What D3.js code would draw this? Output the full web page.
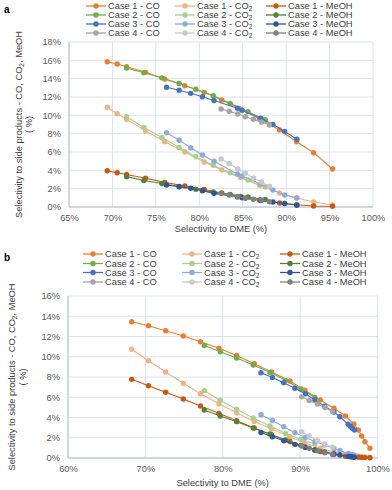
<!DOCTYPE html>
<html><head><meta charset="utf-8">
<script src="https://cdn.jsdelivr.net/npm/d3@7"></script>
<style>
html,body{margin:0;padding:0;background:#fff;}
svg{display:block;font-family:"Liberation Sans",Arial,sans-serif;}
</style></head>
<body><svg id="c" width="392" height="490"></svg>
<script>
// ---------- DATA (percent) ----------
const caseNames = ["Case 1","Case 2","Case 3","Case 4"];
const speciesNames = ["CO","CO2","MeOH"];
const xTicksA = [65,70,75,80,85,90,95,100];
const yTicksA = [0,2,4,6,8,10,12,14,16,18];
const xTicksB = [60,70,80,90,100];
const yTicksB = [0,2,4,6,8,10,12,14,16];

// Panel a
const aCase1X    = [69.40,70.55,71.63,73.82,76.03,78.33,80.57,82.59,84.74,86.95,89.25,91.21,93.16,95.34];
const aCase1CO   = [15.85,15.60,15.30,14.69,13.96,13.23,12.51,11.67,10.69,9.60,8.40,7.12,5.92,4.15];
const aCase1CO2  = [10.88,10.18,9.57,8.29,7.12,6.00,4.91,4.04,3.20,2.35,1.53,0.98,0.55,0.22];
const aCase1MeOH = [3.96,3.74,3.55,3.14,2.69,2.29,1.91,1.53,1.15,0.76,0.44,0.24,0.11,0.08];

const aCase2X    = [71.63,73.62,75.69,77.68,79.60,81.61,83.56,85.61,87.59];
const aCase2CO   = [15.16,14.64,14.09,13.47,12.84,12.13,11.31,10.40,9.52];
const aCase2CO2  = [9.85,8.67,7.58,6.49,5.49,4.55,3.73,2.95,2.18];
const aCase2MeOH = [3.31,2.89,2.56,2.24,1.93,1.64,1.36,1.09,0.82];

const aCase3X    = [76.23,77.68,79.02,80.37,81.70,84.39,84.92,87.07,88.48,89.83,91.24];
const aCase3CO   = [13.06,12.73,12.40,12.03,11.62,10.77,10.55,9.68,9.00,8.24,7.39];
const aCase3CO2  = [8.11,7.28,6.47,5.67,5.00,3.60,3.38,2.51,1.85,1.31,0.98];
const aCase3MeOH = [2.40,2.21,2.04,1.78,1.49,1.12,1.01,0.71,0.55,0.38,0.19];

const aCase4X    = [82.51,83.45,84.43,85.31,86.23,87.15,88.07];
const aCase4CO   = [10.69,10.44,10.15,9.85,9.57,9.27,8.95];
const aCase4CO2  = [5.24,4.75,4.15,3.68,3.16,2.73,2.26];
const aCase4MeOH = [1.49,1.31,1.12,0.95,0.84,0.76,0.58];

// Panel b
const bCase1X    = [68.23,70.40,72.62,74.90,77.12,79.51,81.80,84.07,86.32,88.68,90.62,92.60,94.37,95.85,96.95,97.53,97.95,98.37,99.02];
const bCase1CO   = [13.46,13.07,12.57,12.05,11.48,10.83,10.12,9.31,8.49,7.60,6.69,5.73,4.91,4.15,3.36,2.77,2.17,1.61,0.96];
const bCase1CO2  = [10.74,9.61,8.49,7.38,6.34,5.36,4.46,3.60,2.86,2.10,1.48,0.96,0.59,0.35,0.23,0.17,0.13,0.10,0.07];
const bCase1MeOH = [7.77,7.14,6.49,5.83,5.14,4.41,3.68,2.96,2.27,1.63,1.09,0.64,0.35,0.18,0.10,0.07,0.05,0.04,0.03];

const bCase2X    = [77.61,79.68,81.80,83.94,86.10,88.13,90.10,91.91];
const bCase2CO   = [11.11,10.50,9.88,9.19,8.46,7.67,6.81,5.98];
const bCase2CO2  = [6.65,5.70,4.82,3.95,3.16,2.42,1.83,1.38];
const bCase2MeOH = [4.74,4.15,3.59,2.96,2.37,1.78,1.23,0.79];

const bCase3X    = [84.94,86.42,87.88,89.33,90.68,91.91,93.17,94.37,95.14,96.21,96.50,96.76,97.02];
const bCase3CO   = [8.42,7.95,7.44,6.89,6.35,5.73,5.11,4.54,4.08,3.33,3.13,2.93,2.77];
const bCase3CO2  = [4.28,3.70,3.09,2.50,2.02,1.63,1.28,0.94,0.74,0.44,0.38,0.33,0.28];
const bCase3MeOH = [2.52,2.09,1.71,1.35,1.04,0.79,0.59,0.41,0.30,0.15,0.12,0.10,0.08];

const bCase4X    = [90.19,91.18,92.24,93.20,94.20];
const bCase4CO   = [6.04,5.68,5.33,4.99,4.57];
const bCase4CO2  = [2.60,2.17,1.73,1.38,1.06];
const bCase4MeOH = [1.21,0.96,0.72,0.52,0.35];

// colours [case][species]
const colors = [
  ["#ED7D31","#F4B183","#C55A11"],
  ["#70AD47","#A9D18E","#548235"],
  ["#4472C4","#8FAADC","#2F5597"],
  ["#A5A5A5","#C9C9C9","#7F7F7F"]
];

// ---------- BUILD ----------
const svg = d3.select("#c");
const FONT = 9.3;
const TXT = "#595959";

function buildSeries(xs, cos, co2s, meohs){
  const out = [];
  xs.forEach((x, ci) => {
    [cos[ci], co2s[ci], meohs[ci]].forEach((ys, si) => {
      out.push({c: ci, s: si, pts: x.map((v,i)=>({x:v, y:ys[i]}))});
    });
  });
  return out;
}

const seriesA = buildSeries(
  [aCase1X,aCase2X,aCase3X,aCase4X],
  [aCase1CO,aCase2CO,aCase3CO,aCase4CO],
  [aCase1CO2,aCase2CO2,aCase3CO2,aCase4CO2],
  [aCase1MeOH,aCase2MeOH,aCase3MeOH,aCase4MeOH]);
const seriesB = buildSeries(
  [bCase1X,bCase2X,bCase3X,bCase4X],
  [bCase1CO,bCase2CO,bCase3CO,bCase4CO],
  [bCase1CO2,bCase2CO2,bCase3CO2,bCase4CO2],
  [bCase1MeOH,bCase2MeOH,bCase3MeOH,bCase4MeOH]);

function speciesLabel(sel, si){
  if (si === 1){
    sel.append("tspan").text("CO");
    sel.append("tspan").attr("font-size", 6.5).attr("dy", 2).text("2");
  } else sel.append("tspan").text(speciesNames[si]);
}

function drawPanel(cfg){
  const g = svg.append("g");
  const x = d3.scaleLinear().domain(cfg.xDom).range([cfg.l, cfg.r]);
  const y = d3.scaleLinear().domain(cfg.yDom).range([cfg.b, cfg.t]);

  // panel letter
  svg.append("text").attr("x", 4).attr("y", cfg.letterY).attr("font-weight","bold")
     .attr("font-size", 10).attr("fill","#000").text(cfg.letter);

  // legend
  const leg = g.append("g");
  for (let ci=0; ci<4; ci++){
    for (let si=0; si<3; si++){
      const lx = cfg.legX[si], ly = cfg.legY[ci];
      leg.append("line").attr("x1", lx).attr("x2", lx+20).attr("y1", ly).attr("y2", ly)
         .attr("stroke", colors[ci][si]).attr("stroke-width", 1.3);
      leg.append("circle").attr("cx", lx+10).attr("cy", ly).attr("r", 2.7).attr("fill", colors[ci][si]);
      const t = leg.append("text").attr("x", lx+22).attr("y", ly+3.3)
         .attr("font-size", FONT).attr("fill", "#404040");
      t.append("tspan").text(caseNames[ci] + " - ");
      speciesLabel(t, si);
    }
  }

  // grid
  g.append("g").selectAll("line").data(cfg.yTicks).join("line")
    .attr("x1", cfg.l).attr("x2", cfg.r).attr("y1", d=>y(d)).attr("y2", d=>y(d))
    .attr("stroke", "#DCE2EA").attr("stroke-width", 1);
  g.append("g").selectAll("line").data(cfg.xTicks).join("line")
    .attr("y1", cfg.t).attr("y2", cfg.b).attr("x1", d=>x(d)).attr("x2", d=>x(d))
    .attr("stroke", "#DCE2EA").attr("stroke-width", 1);
  // axes lines
  g.append("line").attr("x1", cfg.l).attr("x2", cfg.l).attr("y1", cfg.t).attr("y2", cfg.b)
    .attr("stroke", "#C5CFDC").attr("stroke-width", 1.5);
  g.append("line").attr("x1", cfg.l).attr("x2", cfg.r).attr("y1", cfg.b).attr("y2", cfg.b)
    .attr("stroke", "#C5CFDC").attr("stroke-width", 1.5);

  // axis tick labels via d3 axes
  const xAxis = d3.axisBottom(x).tickValues(cfg.xTicks).tickSize(0).tickPadding(7).tickFormat(d=>d+"%");
  const yAxis = d3.axisLeft(y).tickValues(cfg.yTicks).tickSize(0).tickPadding(8).tickFormat(d=>d+"%");
  const gx = g.append("g").attr("transform", `translate(0,${cfg.b})`).call(xAxis);
  const gy = g.append("g").attr("transform", `translate(${cfg.l},0)`).call(yAxis);
  [gx, gy].forEach(a => {
    a.select(".domain").remove();
    a.selectAll("text").attr("font-size", FONT).attr("fill", TXT).attr("font-family", "Liberation Sans, Arial, sans-serif");
  });

  // axis titles
  g.append("text").attr("x", (cfg.l+cfg.r)/2).attr("y", cfg.xTitleY).attr("text-anchor","middle")
    .attr("font-size", FONT).attr("fill", "#404040").text("Selectivity to DME (%)");
  const cy = (cfg.t+cfg.b)/2;
  const yt = g.append("text").attr("transform", `translate(${cfg.yTitleX1},${cy}) rotate(-90)`)
    .attr("text-anchor","middle").attr("font-size", FONT).attr("fill", "#404040");
  yt.append("tspan").text("Selectivity to side products - CO, CO");
  yt.append("tspan").attr("font-size", 6.5).attr("dy", 2).text("2");
  yt.append("tspan").attr("dy", -2).text(", MeOH");
  g.append("text").attr("transform", `translate(${cfg.yTitleX2},${cy}) rotate(-90)`)
    .attr("text-anchor","middle").attr("font-size", FONT).attr("fill", "#404040").text("( %)");

  // series
  const line = d3.line().x(d=>x(d.x)).y(d=>y(d.y));
  cfg.series.forEach(s => {
    const sg = g.append("g");
    sg.append("path").attr("d", line(s.pts)).attr("fill","none")
      .attr("stroke", colors[s.c][s.s]).attr("stroke-width", 1.1);
    sg.selectAll("circle").data(s.pts).join("circle")
      .attr("cx", d=>x(d.x)).attr("cy", d=>y(d.y)).attr("r", 2.7)
      .attr("fill", colors[s.c][s.s]);
  });
}

drawPanel({
  letter:"a", letterY: 13,
  l:69, r:373, t:42, b:207, xDom:[65,100], yDom:[0,18],
  xTicks:xTicksA, yTicks:yTicksA, series:seriesA,
  legX:[86,175,266], legY:[6,15,24,33],
  xTitleY:232, yTitleX1:22, yTitleX2:32
});
drawPanel({
  letter:"b", letterY: 261,
  l:68, r:377.5, t:296, b:458, xDom:[60,100], yDom:[0,16],
  xTicks:xTicksB, yTicks:yTicksB, series:seriesB,
  legX:[83,182,280], legY:[254,263.5,272.5,282],
  xTitleY:486, yTitleX1:15, yTitleX2:26
});
</script></body></html>
